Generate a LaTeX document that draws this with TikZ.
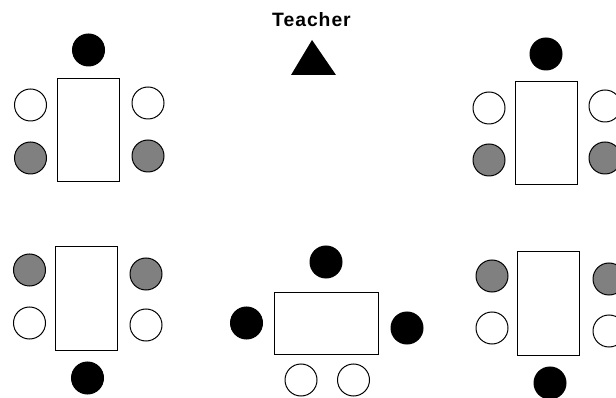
\documentclass[tikz,border=0pt]{standalone}
\usepackage{fontspec}
\setmainfont{Liberation Sans}
\begin{document}
\begin{tikzpicture}[x=0.75pt,y=-0.75pt,
  seat/.style={circle,draw=black,line width=0.75pt,minimum size=24pt,inner sep=0pt},
  teacherseat/.style={seat,fill=black},
  grayseat/.style={seat,fill=black!50},
  whiteseat/.style={seat,fill=white},
  tallbox/.style={rectangle,draw=black,line width=0.75pt,minimum width=46.5pt,minimum height=77.25pt,inner sep=0pt},
  widebox/.style={rectangle,draw=black,line width=0.75pt,minimum width=78pt,minimum height=45.75pt,inner sep=0pt}]
\clip (0,0) rectangle (616,398);
\useasboundingbox (0,0) rectangle (616,398);
% teacher
\node[font=\bfseries\fontsize{14.5}{16}\selectfont\addfontfeature{LetterSpace=5},inner sep=0pt] (teacher) at (311.5,20) {Teacher};
\fill[black] (291,75) -- (312,40) -- (336,75) -- cycle;
% group 1 top-left
\node[tallbox] (t1) at (88,130.5) {};
\node[teacherseat] (b1) at (88.5,50) {};
\node[whiteseat] (w1l) at (30.5,105) {};
\node[grayseat] (g1l) at (30.5,158) {};
\node[whiteseat] (w1r) at (148,103) {};
\node[grayseat] (g1r) at (148,156) {};
% group 2 top-right
\node[tallbox] (t2) at (546,133.5) {};
\node[teacherseat] (b2) at (546,54) {};
\node[whiteseat] (w2l) at (489,108) {};
\node[grayseat] (g2l) at (489,160) {};
\node[whiteseat] (w2r) at (605,106) {};
\node[grayseat] (g2r) at (605,158) {};
% group 3 bottom-left
\node[tallbox] (t3) at (86.5,298.5) {};
\node[grayseat] (g3l) at (29.5,270) {};
\node[whiteseat] (w3l) at (29.5,323) {};
\node[grayseat] (g3r) at (146,274) {};
\node[whiteseat] (w3r) at (146,325) {};
\node[teacherseat] (b3) at (87.5,378) {};
% group 4 bottom-middle
\node[widebox] (t4) at (326,323.5) {};
\node[teacherseat] (b4t) at (326,262) {};
\node[teacherseat] (b4l) at (246.5,323) {};
\node[teacherseat] (b4r) at (407,328) {};
\node[whiteseat] (w4a) at (301,380) {};
\node[whiteseat] (w4b) at (353.5,380) {};
% group 5 bottom-right
\node[tallbox] (t5) at (548.5,303.5) {};
\node[grayseat] (g5l) at (492,276) {};
\node[whiteseat] (w5l) at (492,328) {};
\node[grayseat] (g5r) at (609,279) {};
\node[whiteseat] (w5r) at (609,331) {};
\node[teacherseat] (b5) at (550,383) {};
\end{tikzpicture}
\end{document}
